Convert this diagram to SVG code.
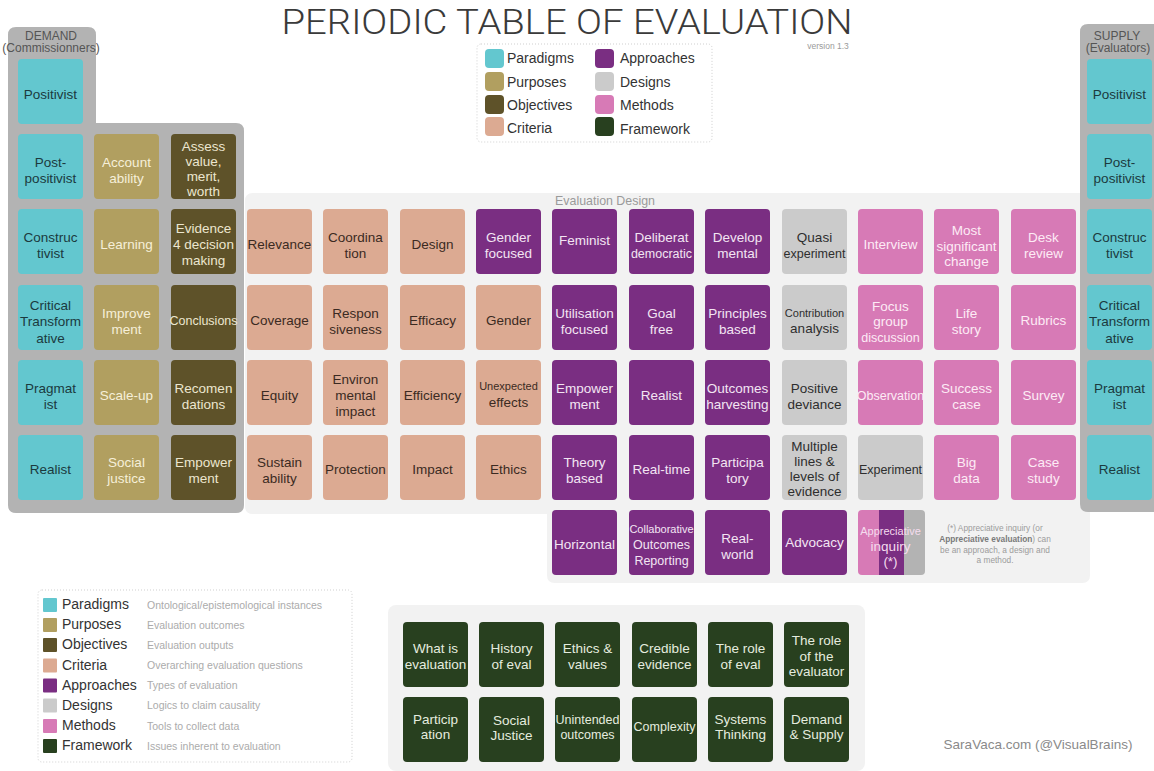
<svg xmlns="http://www.w3.org/2000/svg" width="1154" height="771" viewBox="0 0 1154 771">
  <defs>
    <style>
      text { font-family: "Liberation Sans", Arial, sans-serif; }
      .tx { font-size: 13.5px; text-anchor: middle; }
      .par { fill: #63c7cf; }
      .pur { fill: #b19f60; }
      .obj { fill: #5e5229; }
      .cri { fill: #dcaa92; }
      .app { fill: #7a2e82; }
      .des { fill: #cbcbcb; }
      .met { fill: #d77ab6; }
      .fra { fill: #28401f; }
      .dk { fill: #1b3a3e; }
      .lp { fill: #f6efd9; }
      .lo { fill: #ece6cf; }
      .cr { fill: #3b2a22; }
      .ap { fill: #f3e5f3; }
      .ds { fill: #2e2e2e; }
      .me { fill: #fdebf5; }
      .fw { fill: #e5ecdf; }
      .sm { font-size: 12.5px; }
      .xs { font-size: 11px; }
      .panel { fill: #b3b3b3; }
      .zone { fill: #f2f2f2; }
      .legend { fill: #ffffff; stroke: #cfcfcf; stroke-width: 1; stroke-dasharray: 1 2; }
      .lgt { font-size: 14px; fill: #333333; }
      .lgd { font-size: 10.5px; fill: #ababab; }
      .hdr { font-size: 12px; fill: #555555; text-anchor: middle; }
      .title { font-family: Roboto, Lato, "Liberation Sans", sans-serif; font-weight: 300; font-size: 35px; fill: #3a3a3a; text-anchor: middle; }
    </style>
    <clipPath id="aiClip">
      <rect x="858" y="510" width="67" height="65" rx="4"/>
    </clipPath>
  </defs>

  <!-- title -->
  <text class="title" x="567" y="34" textLength="571" lengthAdjust="spacingAndGlyphs">PERIODIC TABLE OF EVALUATION</text>
  <text x="828" y="48.5" font-size="8.5" fill="#9a9a9a" text-anchor="middle">version 1.3</text>

  <!-- background panels -->
  <g id="panels">
    <path class="panel" d="M16,27 H88 Q96,27 96,35 V123 H236 Q244,123 244,131 V505 Q244,513 236,513 H16 Q8,513 8,505 V35 Q8,27 16,27 Z"/>
    <path class="zone" d="M253,193 H1090 V575 Q1090,583 1082,583 H555 Q547,583 547,575 V514 H253 Q245,514 245,506 V201 Q245,193 253,193 Z"/>
    <path class="panel" d="M1088,24 H1154 V512 H1088 Q1080,512 1080,504 V32 Q1080,24 1088,24 Z"/>
    <rect class="zone" x="388" y="605" width="477" height="166" rx="8"/>
    <text class="hdr" x="51" y="40">DEMAND</text>
    <text class="hdr" x="51" y="52" font-size="10.5">(Commissionners)</text>
    <text class="hdr" x="1117" y="40">SUPPLY</text>
    <text class="hdr" x="1118" y="52">(Evaluators)</text>
    <text x="605" y="205" font-size="12.4" fill="#9a9a9a" text-anchor="middle">Evaluation Design</text>
  </g>

  <!-- top legend -->
  <g id="legend-top">
    <rect class="legend" x="477" y="44" width="235" height="98" rx="4"/>
    <rect class="par" x="485" y="49" width="19" height="19" rx="4"/>
    <rect class="pur" x="485" y="72" width="19" height="19" rx="4"/>
    <rect class="obj" x="485" y="95" width="19" height="19" rx="4"/>
    <rect class="cri" x="485" y="117" width="19" height="19" rx="4"/>
    <rect class="app" x="595" y="49" width="19" height="19" rx="4"/>
    <rect class="des" x="595" y="72" width="19" height="19" rx="4"/>
    <rect class="met" x="595" y="95" width="19" height="19" rx="4"/>
    <rect class="fra" x="595" y="117" width="19" height="19" rx="4"/>
    <text class="lgt" x="507" y="63">Paradigms</text>
    <text class="lgt" x="507" y="86.5">Purposes</text>
    <text class="lgt" x="507" y="110">Objectives</text>
    <text class="lgt" x="507" y="133">Criteria</text>
    <text class="lgt" x="620" y="63">Approaches</text>
    <text class="lgt" x="620" y="87">Designs</text>
    <text class="lgt" x="620" y="110">Methods</text>
    <text class="lgt" x="620" y="134">Framework</text>
  </g>

  <!-- bottom legend -->
  <g id="legend-bottom">
    <rect class="legend" x="38" y="590" width="314" height="172" rx="4"/>
    <rect class="par" x="43" y="598" width="14" height="14" rx="1"/>
    <rect class="pur" x="43" y="618" width="14" height="14" rx="1"/>
    <rect class="obj" x="43" y="638" width="14" height="14" rx="1"/>
    <rect class="cri" x="43" y="658.5" width="14" height="14" rx="1"/>
    <rect class="app" x="43" y="678.5" width="14" height="14" rx="1"/>
    <rect class="des" x="43" y="698.5" width="14" height="14" rx="1"/>
    <rect class="met" x="43" y="719" width="14" height="14" rx="1"/>
    <rect class="fra" x="43" y="739" width="14" height="14" rx="1"/>
    <text class="lgt" x="62" y="609">Paradigms</text>
    <text class="lgt" x="62" y="629">Purposes</text>
    <text class="lgt" x="62" y="649">Objectives</text>
    <text class="lgt" x="62" y="669.5">Criteria</text>
    <text class="lgt" x="62" y="689.5">Approaches</text>
    <text class="lgt" x="62" y="709.5">Designs</text>
    <text class="lgt" x="62" y="730">Methods</text>
    <text class="lgt" x="62" y="750">Framework</text>
    <text class="lgd" x="147" y="608.5">Ontological/epistemological instances</text>
    <text class="lgd" x="147" y="628.5">Evaluation outcomes</text>
    <text class="lgd" x="147" y="648.5">Evaluation outputs</text>
    <text class="lgd" x="147" y="669">Overarching evaluation questions</text>
    <text class="lgd" x="147" y="689">Types of evaluation</text>
    <text class="lgd" x="147" y="709">Logics to claim causality</text>
    <text class="lgd" x="147" y="729.5">Tools to collect data</text>
    <text class="lgd" x="147" y="749.5">Issues inherent to evaluation</text>
  </g>

  <!-- no connectors in this table -->
  <g id="connectors"/>

  <!-- row 1 -->
  <g id="d-positivist"><rect class="par" x="18" y="59" width="65" height="65" rx="4"/><text class="tx dk" x="50.5" y="98.5">Positivist</text></g>
  <g id="s-positivist"><rect class="par" x="1087" y="59" width="65" height="65" rx="4"/><text class="tx dk" x="1119.5" y="98.5">Positivist</text></g>

  <!-- row 2 -->
  <g id="d-postpositivist"><rect class="par" x="18" y="134" width="65" height="65" rx="4"/><text class="tx dk"><tspan x="50.5" y="166.5">Post-</tspan><tspan x="50.5" y="182.5">positivist</tspan></text></g>
  <g id="accountability"><rect class="pur" x="94" y="134" width="65" height="65" rx="4"/><text class="tx lp"><tspan x="126.5" y="166.5">Account</tspan><tspan x="126.5" y="182.5">ability</tspan></text></g>
  <g id="assess-value"><rect class="obj" x="171" y="134" width="65" height="65" rx="4"/><text class="tx lo"><tspan x="203.5" y="151">Assess</tspan><tspan x="203.5" y="166">value,</tspan><tspan x="203.5" y="181">merit,</tspan><tspan x="203.5" y="196">worth</tspan></text></g>
  <g id="s-postpositivist"><rect class="par" x="1087" y="134" width="65" height="65" rx="4"/><text class="tx dk"><tspan x="1119.5" y="166.5">Post-</tspan><tspan x="1119.5" y="182.5">positivist</tspan></text></g>

  <!-- row 3 -->
  <g id="d-constructivist"><rect class="par" x="18" y="209" width="65" height="65" rx="4"/><text class="tx dk"><tspan x="50.5" y="241.5">Construc</tspan><tspan x="50.5" y="257.5">tivist</tspan></text></g>
  <g id="learning"><rect class="pur" x="94" y="209" width="65" height="65" rx="4"/><text class="tx lp" x="126.5" y="248.5">Learning</text></g>
  <g id="evidence-decision"><rect class="obj" x="171" y="209" width="65" height="65" rx="4"/><text class="tx lo"><tspan x="203.5" y="233">Evidence</tspan><tspan x="203.5" y="249">4 decision</tspan><tspan x="203.5" y="265">making</tspan></text></g>
  <g id="relevance"><rect class="cri" x="247" y="209" width="65" height="65" rx="4"/><text class="tx cr" x="279.5" y="248.5">Relevance</text></g>
  <g id="coordination"><rect class="cri" x="323" y="209" width="65" height="65" rx="4"/><text class="tx cr"><tspan x="355.5" y="241.5">Coordina</tspan><tspan x="355.5" y="257.5">tion</tspan></text></g>
  <g id="design"><rect class="cri" x="400" y="209" width="65" height="65" rx="4"/><text class="tx cr" x="432.5" y="248.5">Design</text></g>
  <g id="gender-focused"><rect class="app" x="476" y="209" width="65" height="65" rx="4"/><text class="tx ap"><tspan x="508.5" y="241.5">Gender</tspan><tspan x="508.5" y="257.5">focused</tspan></text></g>
  <g id="feminist"><rect class="app" x="552" y="209" width="65" height="65" rx="4"/><text class="tx ap" x="584.5" y="244.5">Feminist</text></g>
  <g id="deliberative"><rect class="app" x="629" y="209" width="65" height="65" rx="4"/><text class="tx ap"><tspan x="661.5" y="241.5">Deliberat</tspan><tspan class="sm" x="661.5" y="257.5">democratic</tspan></text></g>
  <g id="developmental"><rect class="app" x="705" y="209" width="65" height="65" rx="4"/><text class="tx ap"><tspan x="737.5" y="241.5">Develop</tspan><tspan x="737.5" y="257.5">mental</tspan></text></g>
  <g id="quasi-experiment"><rect class="des" x="782" y="209" width="65" height="65" rx="4"/><text class="tx ds"><tspan x="814.5" y="241.5">Quasi</tspan><tspan class="sm" x="814.5" y="257.5">experiment</tspan></text></g>
  <g id="interview"><rect class="met" x="858" y="209" width="65" height="65" rx="4"/><text class="tx me" x="890.5" y="248.5">Interview</text></g>
  <g id="most-significant-change"><rect class="met" x="934" y="209" width="65" height="65" rx="4"/><text class="tx me"><tspan x="966.5" y="235">Most</tspan><tspan x="966.5" y="250.5">significant</tspan><tspan x="966.5" y="266">change</tspan></text></g>
  <g id="desk-review"><rect class="met" x="1011" y="209" width="65" height="65" rx="4"/><text class="tx me"><tspan x="1043.5" y="241.5">Desk</tspan><tspan x="1043.5" y="257.5">review</tspan></text></g>
  <g id="s-constructivist"><rect class="par" x="1087" y="209" width="65" height="65" rx="4"/><text class="tx dk"><tspan x="1119.5" y="241.5">Construc</tspan><tspan x="1119.5" y="257.5">tivist</tspan></text></g>

  <!-- row 4 -->
  <g id="d-critical"><rect class="par" x="18" y="285" width="65" height="65" rx="4"/><text class="tx dk"><tspan x="50.5" y="309.5">Critical</tspan><tspan x="50.5" y="326">Transform</tspan><tspan x="50.5" y="342.5">ative</tspan></text></g>
  <g id="improvement"><rect class="pur" x="94" y="285" width="65" height="65" rx="4"/><text class="tx lp"><tspan x="126.5" y="317.5">Improve</tspan><tspan x="126.5" y="333.5">ment</tspan></text></g>
  <g id="conclusions"><rect class="obj" x="171" y="285" width="65" height="65" rx="4"/><text class="tx lo sm" x="203.5" y="324.5">Conclusions</text></g>
  <g id="coverage"><rect class="cri" x="247" y="285" width="65" height="65" rx="4"/><text class="tx cr" x="279.5" y="324.5">Coverage</text></g>
  <g id="responsiveness"><rect class="cri" x="323" y="285" width="65" height="65" rx="4"/><text class="tx cr"><tspan x="355.5" y="317.5">Respon</tspan><tspan x="355.5" y="333.5">siveness</tspan></text></g>
  <g id="efficacy"><rect class="cri" x="400" y="285" width="65" height="65" rx="4"/><text class="tx cr" x="432.5" y="324.5">Efficacy</text></g>
  <g id="gender"><rect class="cri" x="476" y="285" width="65" height="65" rx="4"/><text class="tx cr" x="508.5" y="324.5">Gender</text></g>
  <g id="utilisation-focused"><rect class="app" x="552" y="285" width="65" height="65" rx="4"/><text class="tx ap"><tspan x="584.5" y="317.5">Utilisation</tspan><tspan x="584.5" y="333.5">focused</tspan></text></g>
  <g id="goal-free"><rect class="app" x="629" y="285" width="65" height="65" rx="4"/><text class="tx ap"><tspan x="661.5" y="317.5">Goal</tspan><tspan x="661.5" y="333.5">free</tspan></text></g>
  <g id="principles-based"><rect class="app" x="705" y="285" width="65" height="65" rx="4"/><text class="tx ap"><tspan x="737.5" y="317.5">Principles</tspan><tspan x="737.5" y="333.5">based</tspan></text></g>
  <g id="contribution-analysis"><rect class="des" x="782" y="285" width="65" height="65" rx="4"/><text class="tx ds"><tspan class="xs" x="814.5" y="316.5">Contribution</tspan><tspan x="814.5" y="333">analysis</tspan></text></g>
  <g id="focus-group"><rect class="met" x="858" y="285" width="65" height="65" rx="4"/><text class="tx me"><tspan x="890.5" y="310.5">Focus</tspan><tspan x="890.5" y="326">group</tspan><tspan class="sm" x="890.5" y="341.5">discussion</tspan></text></g>
  <g id="life-story"><rect class="met" x="934" y="285" width="65" height="65" rx="4"/><text class="tx me"><tspan x="966.5" y="317.5">Life</tspan><tspan x="966.5" y="333.5">story</tspan></text></g>
  <g id="rubrics"><rect class="met" x="1011" y="285" width="65" height="65" rx="4"/><text class="tx me" x="1043.5" y="324.5">Rubrics</text></g>
  <g id="s-critical"><rect class="par" x="1087" y="285" width="65" height="65" rx="4"/><text class="tx dk"><tspan x="1119.5" y="309.5">Critical</tspan><tspan x="1119.5" y="326">Transform</tspan><tspan x="1119.5" y="342.5">ative</tspan></text></g>

  <!-- row 5 -->
  <g id="d-pragmatist"><rect class="par" x="18" y="360" width="65" height="65" rx="4"/><text class="tx dk"><tspan x="50.5" y="392.5">Pragmat</tspan><tspan x="50.5" y="408.5">ist</tspan></text></g>
  <g id="scale-up"><rect class="pur" x="94" y="360" width="65" height="65" rx="4"/><text class="tx lp" x="126.5" y="399.5">Scale-up</text></g>
  <g id="recommendations"><rect class="obj" x="171" y="360" width="65" height="65" rx="4"/><text class="tx lo"><tspan x="203.5" y="392.5">Recomen</tspan><tspan x="203.5" y="408.5">dations</tspan></text></g>
  <g id="equity"><rect class="cri" x="247" y="360" width="65" height="65" rx="4"/><text class="tx cr" x="279.5" y="399.5">Equity</text></g>
  <g id="environmental-impact"><rect class="cri" x="323" y="360" width="65" height="65" rx="4"/><text class="tx cr"><tspan x="355.5" y="384">Environ</tspan><tspan x="355.5" y="400">mental</tspan><tspan x="355.5" y="416">impact</tspan></text></g>
  <g id="efficiency"><rect class="cri" x="400" y="360" width="65" height="65" rx="4"/><text class="tx cr" x="432.5" y="399.5">Efficiency</text></g>
  <g id="unexpected-effects"><rect class="cri" x="476" y="360" width="65" height="65" rx="4"/><text class="tx cr"><tspan class="xs" x="508.5" y="390">Unexpected</tspan><tspan x="508.5" y="406.5">effects</tspan></text></g>
  <g id="empowerment-app"><rect class="app" x="552" y="360" width="65" height="65" rx="4"/><text class="tx ap"><tspan x="584.5" y="392.5">Empower</tspan><tspan x="584.5" y="408.5">ment</tspan></text></g>
  <g id="realist-app"><rect class="app" x="629" y="360" width="65" height="65" rx="4"/><text class="tx ap" x="661.5" y="399.5">Realist</text></g>
  <g id="outcomes-harvesting"><rect class="app" x="705" y="360" width="65" height="65" rx="4"/><text class="tx ap"><tspan x="737.5" y="392.5">Outcomes</tspan><tspan x="737.5" y="408.5">harvesting</tspan></text></g>
  <g id="positive-deviance"><rect class="des" x="782" y="360" width="65" height="65" rx="4"/><text class="tx ds"><tspan x="814.5" y="392.5">Positive</tspan><tspan x="814.5" y="408.5">deviance</tspan></text></g>
  <g id="observation"><rect class="met" x="858" y="360" width="65" height="65" rx="4"/><text class="tx me sm" x="890.5" y="399.5">Observation</text></g>
  <g id="success-case"><rect class="met" x="934" y="360" width="65" height="65" rx="4"/><text class="tx me"><tspan x="966.5" y="392.5">Success</tspan><tspan x="966.5" y="408.5">case</tspan></text></g>
  <g id="survey"><rect class="met" x="1011" y="360" width="65" height="65" rx="4"/><text class="tx me" x="1043.5" y="399.5">Survey</text></g>
  <g id="s-pragmatist"><rect class="par" x="1087" y="360" width="65" height="65" rx="4"/><text class="tx dk"><tspan x="1119.5" y="392.5">Pragmat</tspan><tspan x="1119.5" y="408.5">ist</tspan></text></g>

  <!-- row 6 -->
  <g id="d-realist"><rect class="par" x="18" y="435" width="65" height="65" rx="4"/><text class="tx dk" x="50.5" y="474">Realist</text></g>
  <g id="social-justice-pur"><rect class="pur" x="94" y="435" width="65" height="65" rx="4"/><text class="tx lp"><tspan x="126.5" y="466.5">Social</tspan><tspan x="126.5" y="482.5">justice</tspan></text></g>
  <g id="empowerment-obj"><rect class="obj" x="171" y="435" width="65" height="65" rx="4"/><text class="tx lo"><tspan x="203.5" y="466.5">Empower</tspan><tspan x="203.5" y="482.5">ment</tspan></text></g>
  <g id="sustainability"><rect class="cri" x="247" y="435" width="65" height="65" rx="4"/><text class="tx cr"><tspan x="279.5" y="466.5">Sustain</tspan><tspan x="279.5" y="482.5">ability</tspan></text></g>
  <g id="protection"><rect class="cri" x="323" y="435" width="65" height="65" rx="4"/><text class="tx cr" x="355.5" y="474">Protection</text></g>
  <g id="impact"><rect class="cri" x="400" y="435" width="65" height="65" rx="4"/><text class="tx cr" x="432.5" y="474">Impact</text></g>
  <g id="ethics"><rect class="cri" x="476" y="435" width="65" height="65" rx="4"/><text class="tx cr" x="508.5" y="474">Ethics</text></g>
  <g id="theory-based"><rect class="app" x="552" y="435" width="65" height="65" rx="4"/><text class="tx ap"><tspan x="584.5" y="466.5">Theory</tspan><tspan x="584.5" y="482.5">based</tspan></text></g>
  <g id="real-time"><rect class="app" x="629" y="435" width="65" height="65" rx="4"/><text class="tx ap" x="661.5" y="474">Real-time</text></g>
  <g id="participatory"><rect class="app" x="705" y="435" width="65" height="65" rx="4"/><text class="tx ap"><tspan x="737.5" y="466.5">Participa</tspan><tspan x="737.5" y="482.5">tory</tspan></text></g>
  <g id="multiple-lines"><rect class="des" x="782" y="435" width="65" height="65" rx="4"/><text class="tx ds"><tspan x="814.5" y="450.5">Multiple</tspan><tspan x="814.5" y="465.5">lines &amp;</tspan><tspan x="814.5" y="480.5">levels of</tspan><tspan x="814.5" y="495.5">evidence</tspan></text></g>
  <g id="experiment"><rect class="des" x="858" y="435" width="65" height="65" rx="4"/><text class="tx ds sm" x="890.5" y="473.5">Experiment</text></g>
  <g id="big-data"><rect class="met" x="934" y="435" width="65" height="65" rx="4"/><text class="tx me"><tspan x="966.5" y="466.5">Big</tspan><tspan x="966.5" y="482.5">data</tspan></text></g>
  <g id="case-study"><rect class="met" x="1011" y="435" width="65" height="65" rx="4"/><text class="tx me"><tspan x="1043.5" y="466.5">Case</tspan><tspan x="1043.5" y="482.5">study</tspan></text></g>
  <g id="s-realist"><rect class="par" x="1087" y="435" width="65" height="65" rx="4"/><text class="tx dk" x="1119.5" y="474">Realist</text></g>

  <!-- row 7 -->
  <g id="horizontal"><rect class="app" x="552" y="510" width="65" height="65" rx="4"/><text class="tx ap" x="584.5" y="549">Horizontal</text></g>
  <g id="collaborative-outcomes"><rect class="app" x="629" y="510" width="65" height="65" rx="4"/><text class="tx ap"><tspan class="xs" x="661.5" y="533">Collaborative</tspan><tspan class="sm" x="661.5" y="549">Outcomes</tspan><tspan class="sm" x="661.5" y="565">Reporting</tspan></text></g>
  <g id="real-world"><rect class="app" x="705" y="510" width="65" height="65" rx="4"/><text class="tx ap"><tspan x="737.5" y="542.5">Real-</tspan><tspan x="737.5" y="558.5">world</tspan></text></g>
  <g id="advocacy"><rect class="app" x="782" y="510" width="65" height="65" rx="4"/><text class="tx ap" x="814.5" y="547">Advocacy</text></g>
  <g id="appreciative-inquiry">
    <g clip-path="url(#aiClip)">
      <rect class="met" x="858" y="510" width="22" height="65"/>
      <rect class="app" x="879" y="510" width="25" height="65"/>
      <rect fill="#b3b3b3" x="904" y="510" width="22" height="65"/>
    </g>
    <text class="tx" fill="#f5dcee"><tspan class="xs" x="890.5" y="535">Appreciative</tspan><tspan x="890.5" y="550.5">inquiry</tspan><tspan x="890.5" y="566">(*)</tspan></text>
  </g>

  <!-- footnote -->
  <g id="footnote" font-size="8.3" fill="#9c9c9c" text-anchor="middle">
    <text x="995" y="531">(*) Appreciative inquiry (or</text>
    <text x="995" y="541.5"><tspan font-weight="bold" fill="#7a7a7a">Appreciative evaluation</tspan>) can</text>
    <text x="995" y="552.5">be an approach, a design and</text>
    <text x="995" y="563">a method.</text>
  </g>

  <!-- framework tiles -->
  <g id="what-is-evaluation"><rect class="fra" x="403" y="622" width="65" height="65" rx="4"/><text class="tx fw"><tspan x="435.5" y="653">What is</tspan><tspan x="435.5" y="668.5">evaluation</tspan></text></g>
  <g id="history-of-eval"><rect class="fra" x="479" y="622" width="65" height="65" rx="4"/><text class="tx fw"><tspan x="511.5" y="653">History</tspan><tspan x="511.5" y="668.5">of eval</tspan></text></g>
  <g id="ethics-values"><rect class="fra" x="555" y="622" width="65" height="65" rx="4"/><text class="tx fw"><tspan x="587.5" y="653">Ethics &amp;</tspan><tspan x="587.5" y="668.5">values</tspan></text></g>
  <g id="credible-evidence"><rect class="fra" x="632" y="622" width="65" height="65" rx="4"/><text class="tx fw"><tspan x="664.5" y="653">Credible</tspan><tspan x="664.5" y="668.5">evidence</tspan></text></g>
  <g id="role-of-eval"><rect class="fra" x="708" y="622" width="65" height="65" rx="4"/><text class="tx fw"><tspan x="740.5" y="653">The role</tspan><tspan x="740.5" y="668.5">of eval</tspan></text></g>
  <g id="role-of-evaluator"><rect class="fra" x="784" y="622" width="65" height="65" rx="4"/><text class="tx fw"><tspan x="816.5" y="645">The role</tspan><tspan x="816.5" y="660.5">of the</tspan><tspan x="816.5" y="676">evaluator</tspan></text></g>
  <g id="participation"><rect class="fra" x="403" y="697" width="65" height="65" rx="4"/><text class="tx fw"><tspan x="435.5" y="723.5">Particip</tspan><tspan x="435.5" y="739">ation</tspan></text></g>
  <g id="social-justice-fw"><rect class="fra" x="479" y="697" width="65" height="65" rx="4"/><text class="tx fw"><tspan x="511.5" y="724.5">Social</tspan><tspan x="511.5" y="740">Justice</tspan></text></g>
  <g id="unintended-outcomes"><rect class="fra" x="555" y="697" width="65" height="65" rx="4"/><text class="tx fw sm"><tspan x="587.5" y="723.5">Unintended</tspan><tspan x="587.5" y="739">outcomes</tspan></text></g>
  <g id="complexity"><rect class="fra" x="632" y="697" width="65" height="65" rx="4"/><text class="tx fw sm" x="664.5" y="731">Complexity</text></g>
  <g id="systems-thinking"><rect class="fra" x="708" y="697" width="65" height="65" rx="4"/><text class="tx fw"><tspan x="740.5" y="723.5">Systems</tspan><tspan x="740.5" y="739">Thinking</tspan></text></g>
  <g id="demand-supply"><rect class="fra" x="784" y="697" width="65" height="65" rx="4"/><text class="tx fw"><tspan x="816.5" y="723.5">Demand</tspan><tspan x="816.5" y="739">&amp; Supply</tspan></text></g>

  <text x="1038" y="749" font-size="13.5" fill="#8a8a8a" text-anchor="middle">SaraVaca.com (@VisualBrains)</text>
</svg>
